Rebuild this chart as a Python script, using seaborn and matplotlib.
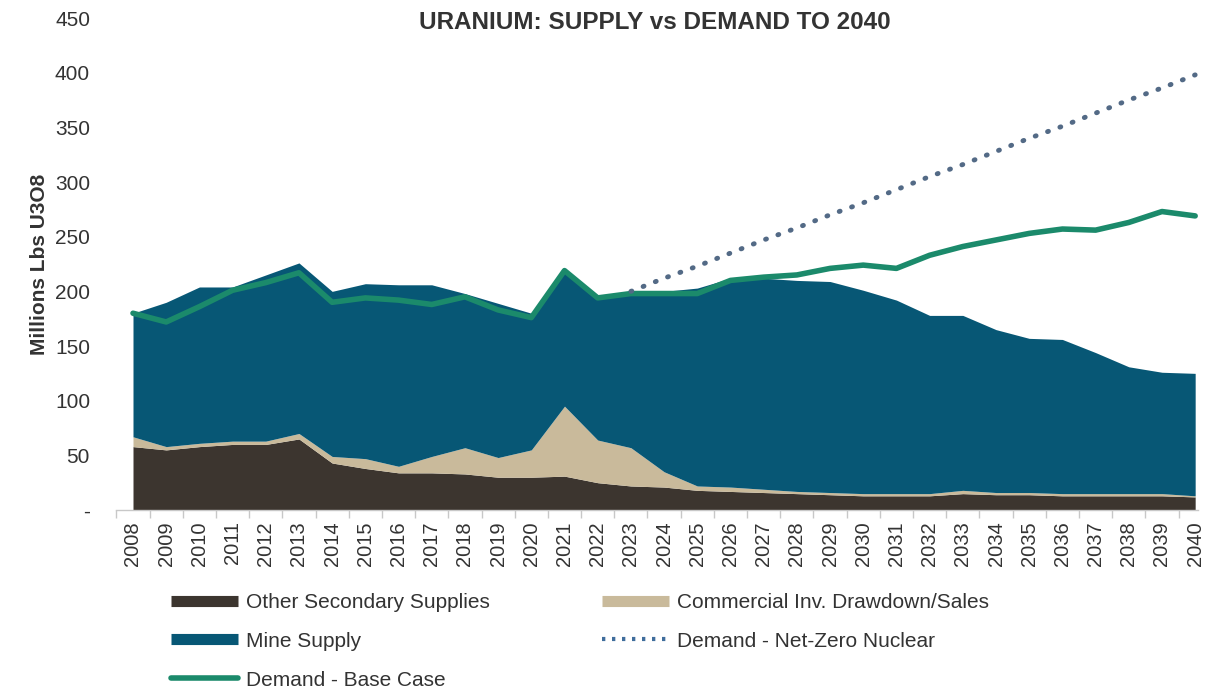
import matplotlib

matplotlib.use("Agg")
import matplotlib.pyplot as plt
import numpy as np
import seaborn as sns
from matplotlib.lines import Line2D


YEARS = [str(y) for y in range(2008, 2041)]

# millions lbs U3O8
OTHER_SECONDARY = [58, 55, 58, 60, 60, 65, 43, 38, 34, 34, 33, 30, 30, 31, 25, 22, 21,
                   18, 17, 16, 15, 14, 13, 13, 13, 15, 14, 14, 13, 13, 13, 13, 12]
COMMERCIAL_INV = [9, 3, 3, 3, 3, 5, 6, 9, 6, 15, 24, 18, 25, 64, 39, 35, 14,
                  4, 4, 3, 2, 2, 2, 2, 2, 3, 2, 2, 2, 2, 2, 2, 1]
MINE_SUPPLY = [113, 132, 143, 141, 152, 156, 151, 160, 166, 157, 141, 141, 125, 126, 131, 143, 165,
               181, 191, 193, 193, 193, 186, 177, 163, 160, 149, 141, 141, 129, 116, 111, 112]
DEMAND_BASE = [180, 172, 186, 201, 208, 217, 190, 194, 192, 188, 195, 183, 176, 219, 194, 198, 198,
               198, 210, 213, 215, 221, 224, 221, 233, 241, 247, 253, 257, 256, 263, 273, 269]
NET_ZERO_YEARS = [str(y) for y in range(2023, 2041)]
DEMAND_NET_ZERO = [200, 212, 223, 235, 247, 258, 270, 281, 293, 305, 316, 328, 340, 351, 363, 375, 386, 398]

Y_TICKS = [0, 50, 100, 150, 200, 250, 300, 350, 400, 450]
Y_TICK_LABELS = ["-", "50", "100", "150", "200", "250", "300", "350", "400", "450"]

C_OTHER = "#3c352f"
C_COMM = "#c9ba9b"
C_MINE = "#075775"
C_BASE = "#1b8a6b"
C_NETZERO = "#536a86"
TEXT = "#333333"


def main() -> None:
    sns.set_theme(style="white")
    plt.rcParams["font.family"] = ["Liberation Sans", "DejaVu Sans"]

    fig = plt.figure(figsize=(12.05, 6.98), dpi=100)
    ax = fig.add_axes([0.0966, 0.2693, 0.898, 0.7049])

    x = np.arange(len(YEARS))
    ax.stackplot(
        x,
        OTHER_SECONDARY,
        COMMERCIAL_INV,
        MINE_SUPPLY,
        colors=[C_OTHER, C_COMM, C_MINE],
        linewidth=0,
    )

    sns.lineplot(x=x, y=DEMAND_BASE, ax=ax, color=C_BASE, linewidth=4)
    nz_x = [YEARS.index(y) for y in NET_ZERO_YEARS]
    sns.lineplot(
        x=nz_x,
        y=DEMAND_NET_ZERO,
        ax=ax,
        color=C_NETZERO,
        linewidth=3.5,
        linestyle=(0, (0.2, 2.5)),
        dash_capstyle="round",
    )

    ax.set_xlim(-0.5, len(YEARS) - 0.9)
    ax.set_ylim(0, 450)
    ax.set_xticks(x)
    ax.set_xticklabels(YEARS, rotation=90, fontsize=14.5, color=TEXT)
    ax.set_xticks(np.arange(len(YEARS)) - 0.5, minor=True)
    ax.tick_params(axis="x", which="major", length=0, pad=8)
    ax.tick_params(axis="x", which="minor", length=6, color="#c8c8c8", width=1, bottom=True)
    ax.set_yticks(Y_TICKS)
    ax.set_yticklabels(Y_TICK_LABELS, fontsize=15, color=TEXT)
    ax.tick_params(axis="y", length=0, pad=19)

    for side in ["top", "right", "left"]:
        ax.spines[side].set_visible(False)
    ax.spines["bottom"].set_color("#c8c8c8")
    ax.spines["bottom"].set_linewidth(1)

    ax.set_ylabel("Millions Lbs U3O8", fontsize=15, fontweight="bold", color=TEXT, labelpad=4)
    fig.text(0.5436, 0.968, "URANIUM: SUPPLY vs DEMAND TO 2040", ha="center", va="center",
             fontsize=17.5, fontweight="bold", color=TEXT)

    handles = [
        Line2D([], [], color=C_OTHER, linewidth=8, solid_capstyle="butt"),
        Line2D([], [], color=C_MINE, linewidth=8, solid_capstyle="butt"),
        Line2D([], [], color=C_BASE, linewidth=4),
        Line2D([], [], color=C_COMM, linewidth=8, solid_capstyle="butt"),
        Line2D([], [], color="#3f6d9c", linewidth=3, linestyle=(0, (0.8, 1.6))),
    ]
    labels = [
        "Other Secondary Supplies",
        "Mine Supply",
        "Demand - Base Case",
        "Commercial Inv. Drawdown/Sales",
        "Demand - Net-Zero Nuclear",
    ]
    fig.legend(
        handles,
        labels,
        loc="upper left",
        bbox_to_anchor=(0.142, 0.1505),
        ncol=2,
        frameon=False,
        fontsize=15,
        handlelength=3.2,
        handletextpad=0.4,
        columnspacing=5.4,
        labelspacing=0.95,
        borderpad=0,
        borderaxespad=0,
        labelcolor=TEXT,
    )

    fig.savefig("out.png", dpi=100)
    plt.close(fig)


if __name__ == "__main__":
    main()
